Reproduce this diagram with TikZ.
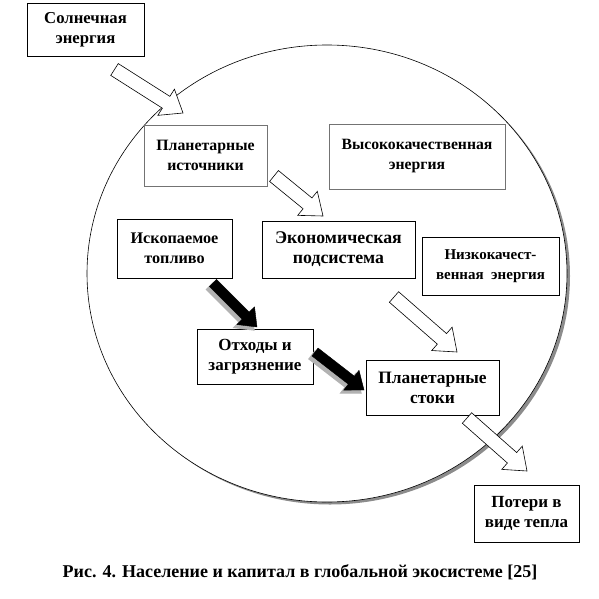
\documentclass[tikz,border=0pt]{standalone}
\usepackage{fontspec}
\setmainfont{Liberation Serif}
\usetikzlibrary{calc}
\tikzset{
  box/.style={draw=black, line width=0.7pt, fill=white, align=center, inner sep=2pt,
    font=\fontsize{15.5}{20}\selectfont\bfseries},
  graybox/.style={box, draw=black!55},
  fs/.style={font=\fontsize{#1}{20}\selectfont\bfseries},
  hollow/.style={draw=black, line width=0.6pt, fill=white, line join=miter},
  solid/.style={draw=black, fill=black, line join=miter},
  solidshadow/.style={draw=black!30, fill=black!30, line width=1.2pt},
  caption/.style={font=\fontsize{18}{22}\selectfont\bfseries}
}
\newcommand\blockarrow[6]{%
  \coordinate (ah) at ($(#3)!#6pt!(#2)$);
  \draw[#1] ($(#2)!#4pt!90:(#3)$) -- ($(ah)!#4pt!-90:(#2)$) -- ($(ah)!#5pt!-90:(#2)$) -- (#3)
    -- ($(ah)!#5pt!90:(#2)$) -- ($(ah)!#4pt!90:(#2)$) -- ($(#2)!#4pt!-90:(#3)$) -- cycle;}
\begin{document}
\begin{tikzpicture}[x=1pt,y=-1pt]
\useasboundingbox (0,0) rectangle (599,599);
% ecosystem ellipse with shadow
\fill[black!45] (330,276) ellipse [x radius=240, y radius=228.5];
\fill[white] (327,273.5) ellipse [x radius=240, y radius=228.5];
\draw[line width=0.6pt] (327,273.5) ellipse [x radius=240, y radius=228.5];

% boxes
\node[box, fs=16.7, minimum width=117, minimum height=53] (sun) at (85.5,29.5) {Солнечная\\энергия};
\node[graybox, fs=15.8, minimum width=123, minimum height=61] (src) at (205.5,155.5) {Планетарные\\источники};
\node[graybox, fs=15.7, minimum width=176, minimum height=65] (hq) at (417,156.5) {Высококачественная\\энергия};
\node[box, fs=17.8, minimum width=153, minimum height=57] (eco) at (338.5,249.5) {Экономическая\\подсистема};
\node[box, fs=15, minimum width=137, minimum height=58] (lq) at (490.5,266) {Низкокачест-\\венная\ \ энергия};
\node[box, fs=16.2, minimum width=115, minimum height=59] (fos) at (174.5,248.5) {Ископаемое\\топливо};
\node[box, fs=17, minimum width=116, minimum height=55] (waste) at (255,356.5) {Отходы и\\загрязнение};
\node[box, fs=17.4, minimum width=133, minimum height=55] (sink) at (432.5,387.5) {Планетарные\\стоки};
\node[box, fs=17, minimum width=105, minimum height=57] (loss) at (526.5,513.5) {Потери в\\виде тепла};

% arrow end points
\coordinate (a1s) at (114.5,69.5);  \coordinate (a1e) at (183,113);
\coordinate (a2s) at (274,176);     \coordinate (a2e) at (323,216);
\coordinate (a3s) at (394,297);     \coordinate (a3e) at (457,352);
\coordinate (a4s) at (467,418);     \coordinate (a4e) at (527,471);
\coordinate (b1s) at (213,283);     \coordinate (b1e) at (257,327);
\coordinate (b2s) at (315,352);     \coordinate (b2e) at (364,390);

% hollow arrows
\blockarrow{hollow}{a1s}{a1e}{7}{15.5}{20}
\blockarrow{hollow}{a2s}{a2e}{7}{15.5}{20}
\blockarrow{hollow}{a3s}{a3e}{7}{15.5}{20}
\blockarrow{hollow}{a4s}{a4e}{7}{15.5}{20}

% black arrows with shadow
\begin{scope}[transform canvas={shift={(-3pt,-3pt)}}]
\blockarrow{solidshadow}{b1s}{b1e}{5}{12.5}{16}
\blockarrow{solidshadow}{b2s}{b2e}{5}{12.5}{16}
\end{scope}
\blockarrow{solid}{b1s}{b1e}{5}{12.5}{16}
\blockarrow{solid}{b2s}{b2e}{5}{12.5}{16}

% caption
\node[caption] (cap) at (300,572) {Рис. 4. Население и капитал в глобальной экосистеме [25]};
\end{tikzpicture}
\end{document}
